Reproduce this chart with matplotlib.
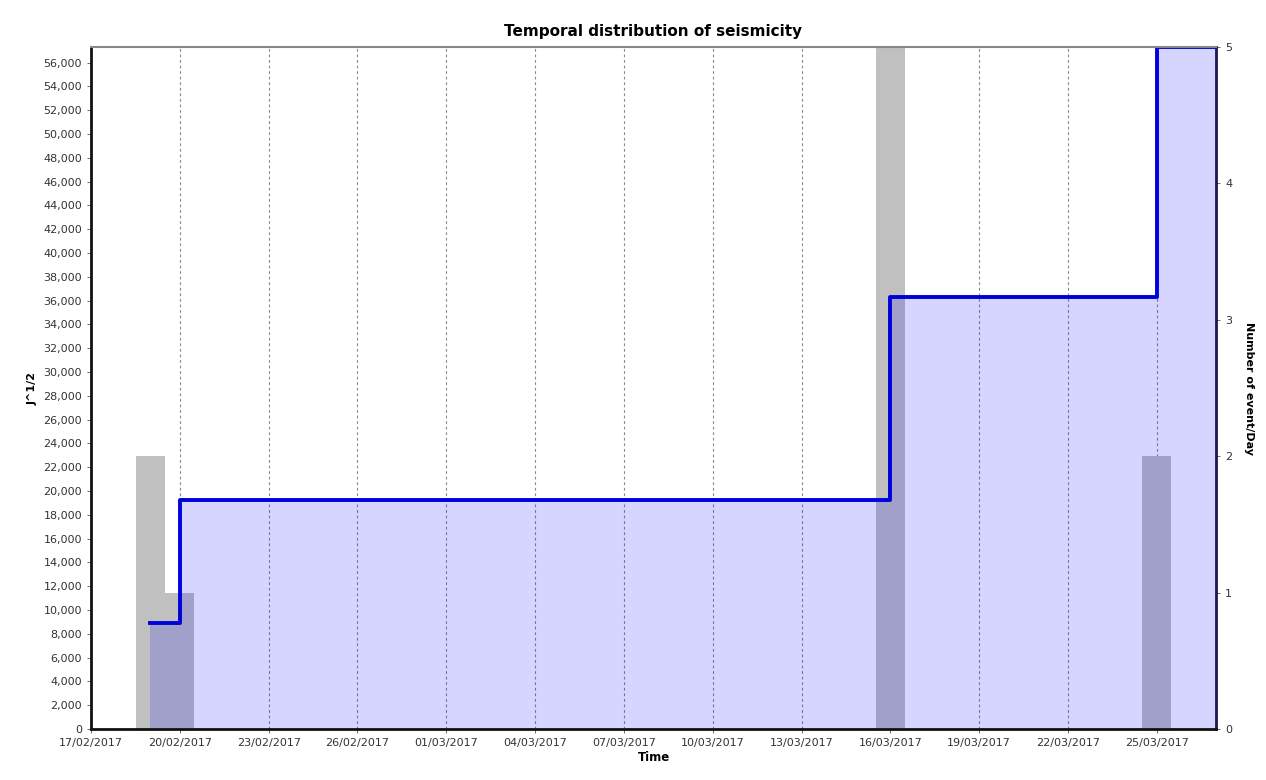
import numpy as np
import pandas as pd
import matplotlib
matplotlib.use('Agg')
import matplotlib.pyplot as plt
import matplotlib.dates as mdates
from matplotlib.ticker import FuncFormatter, MultipleLocator

# events per day (right axis)
bar_dates = pd.to_datetime(['2017-02-19', '2017-02-20', '2017-03-16', '2017-03-25'])
events_per_day = [2, 1, 5, 2]

# cumulative J^1/2 (left axis), step curve
step_dates = pd.to_datetime(['2017-02-19', '2017-02-20', '2017-03-16', '2017-03-25', '2017-03-27'])
cum_strain = [8900, 19200, 36300, 57300, 57300]

x_start = pd.Timestamp('2017-02-17')
x_end = pd.Timestamp('2017-03-27')
tick_dates = pd.date_range(x_start, '2017-03-25', freq='3D')

plt.rcParams['font.family'] = ['DejaVu Sans']
fig = plt.figure(figsize=(12.66, 7.8), dpi=100)
ax = fig.add_axes([0.0719, 0.0654, 0.8886, 0.8743])
axr = ax.twinx()

# bars go underneath, fill + line on top
ax.set_zorder(2)
ax.patch.set_visible(False)
axr.set_zorder(1)

axr.bar(bar_dates, events_per_day, width=0.99, color='#c0c0c0', zorder=2)
axr.set_ylim(0, 5)
axr.set_yticks(range(0, 6))
for d in tick_dates[1:]:
    axr.axvline(d, color='#8a8a8a', ls=(0, (2.5, 2.5)), lw=0.8, zorder=1)

ax.fill_between(step_dates, cum_strain, step='post', color='#0000ff', alpha=0.165, lw=0)
ax.step(step_dates, cum_strain, where='post', color='#0000dd', lw=2.8)
ax.set_ylim(0, 57300)
ax.set_xlim(x_start, x_end)
ax.yaxis.set_major_locator(MultipleLocator(2000))
ax.yaxis.set_major_formatter(FuncFormatter(lambda v, p: f'{int(v):,}'))
ax.set_xticks(tick_dates)
ax.xaxis.set_major_formatter(mdates.DateFormatter('%d/%m/%Y'))

for a in (ax, axr):
    a.tick_params(labelsize=8, colors='#555555', length=3, width=0.6)
    a.tick_params(axis='both', labelcolor='#333333')

ax.spines['left'].set_linewidth(2)
ax.spines['left'].set_color('#111111')
ax.spines['bottom'].set_linewidth(2)
ax.spines['bottom'].set_color('#111111')
ax.spines['top'].set_color('#888888')
ax.spines['top'].set_linewidth(1.5)
ax.spines['right'].set_visible(False)
axr.spines['right'].set_color('#1a1a4a')
axr.spines['right'].set_linewidth(2)
for s in ('left', 'top', 'bottom'):
    axr.spines[s].set_visible(False)

ax.set_title('Temporal distribution of seismicity', fontsize=11, fontweight='bold', pad=8)
ax.set_xlabel('Time', fontsize=8.5, fontweight='bold', labelpad=2)
ax.set_ylabel('J^1/2', fontsize=8, fontweight='bold', labelpad=4)
axr.set_ylabel('Number of event/Day', fontsize=8, fontweight='bold', rotation=270, labelpad=16)

fig.savefig('out.png', dpi=100)
